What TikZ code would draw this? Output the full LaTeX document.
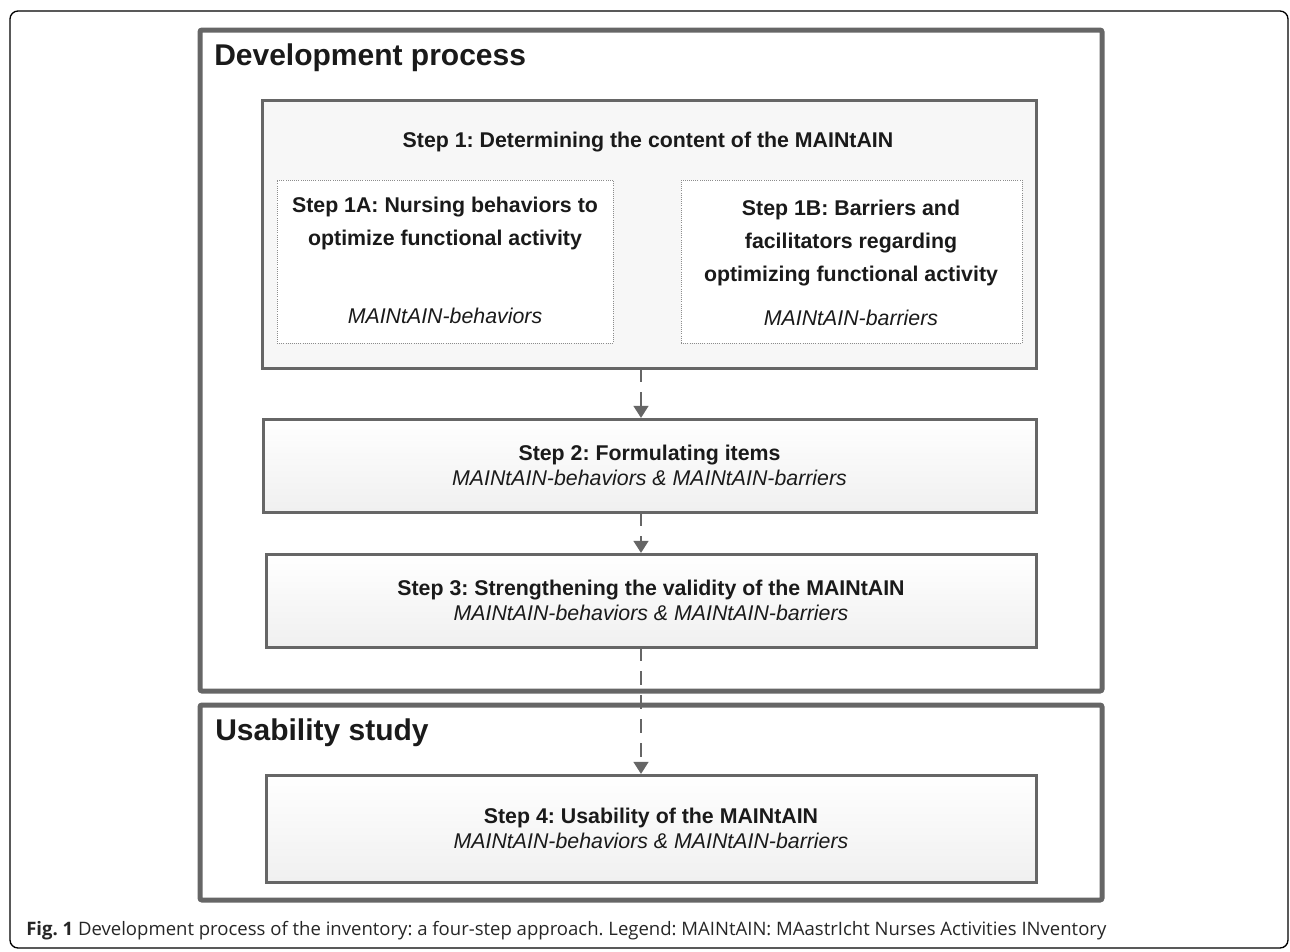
\documentclass[tikz,border=0pt]{standalone}
\usepackage{fontspec}
\setmainfont{Liberation Sans}
\newfontfamily\capfont{Open Sans}
\usetikzlibrary{arrows.meta,fit,shadows}
\definecolor{boxgray}{HTML}{666666}
\definecolor{inkblack}{HTML}{1A1A1A}
\frenchspacing
\begin{document}
\begin{tikzpicture}[x=0.75pt, y=-0.75pt,
    phasebox/.style={draw=boxgray, line width=3.75pt, rounded corners=1.5pt, inner sep=0pt, outer sep=0pt,
        drop shadow={opacity=0.12, shadow xshift=1.5pt, shadow yshift=-1.5pt}, fill=white},
    stepbox/.style={draw=boxgray, line width=2.25pt, inner sep=0pt, outer sep=0pt,
        drop shadow={opacity=0.15, shadow xshift=1.5pt, shadow yshift=-1.5pt}},
    subbox/.style={draw=black!45, densely dotted, line width=0.6pt, inner sep=0pt, outer sep=0pt, fill=white},
    phasetitle/.style={font=\fontsize{22.5}{27}\selectfont\bfseries, text=inkblack, inner sep=0pt},
    steptitle/.style={font=\fontsize{16}{24.75}\selectfont\bfseries, text=inkblack, inner sep=0pt},
    stepnote/.style={font=\fontsize{16}{19}\selectfont\itshape, text=inkblack, inner sep=0pt},
    steptext/.style={font=\fontsize{16}{18.75}\selectfont, text=inkblack, align=center, inner sep=0pt},
    flow/.style={draw=boxgray, line width=1.6pt, dash pattern=on 10.5pt off 7.5pt,
        -{Triangle[width=11pt, length=9pt]}, shorten >=0.8pt}]
    \useasboundingbox (0,0) rectangle (1290,951);
    \draw[line width=1pt, rounded corners=6pt] (10,11) rectangle (1288,948);
    \node[phasebox, fit={(200,30) (1102,691)}] (dev) {};
    \node[phasebox, fit={(200,705) (1102,900)}] (use) {};
    \node[anchor=base west, phasetitle] (devtitle) at (214,65) {Development process};
    \node[anchor=base west, phasetitle] (usetitle) at (215,740) {Usability study};
    \node[stepbox, fill=black!3, fit={(262,100) (1036,368)}] (step1) {};
    \node[anchor=base, steptitle] (s1title) at (648,147) {Step 1: Determining the content of the MAINtAIN};
    \node[subbox, fit={(277,180) (613,343)}] (step1a) {};
    \node[subbox, fit={(681,180) (1022,343)}] (step1b) {};
    \node[anchor=north, steptitle, align=center] (s1atext) at (445,197) {Step 1A: Nursing behaviors to\\optimize functional activity};
    \node[anchor=base, stepnote] (s1anote) at (445,323) {MAINtAIN-behaviors};
    \node[anchor=north, steptitle, align=center] (s1btext) at (851,200) {Step 1B: Barriers and\\facilitators regarding\\optimizing functional activity};
    \node[anchor=base, stepnote] (s1bnote) at (851,325) {MAINtAIN-barriers};
    \node[stepbox, top color=white, bottom color=black!6, fit={(263,419) (1036,512)}] (step2) {};
    \node[steptext] (s2text) at (step2.center) {\textbf{Step 2: Formulating items}\\\textit{MAINtAIN-behaviors \& MAINtAIN-barriers}};
    \node[stepbox, top color=white, bottom color=black!6, fit={(266,554) (1036,647)}] (step3) {};
    \node[steptext] (s3text) at (step3.center) {\textbf{Step 3: Strengthening the validity of the MAINtAIN}\\\textit{MAINtAIN-behaviors \& MAINtAIN-barriers}};
    \node[stepbox, top color=white, bottom color=black!6, fit={(266,775) (1036,882)}] (step4) {};
    \node[steptext] (s4text) at (step4.center) {\textbf{Step 4: Usability of the MAINtAIN}\\\textit{MAINtAIN-behaviors \& MAINtAIN-barriers}};
    \coordinate (ax) at (641,0);
    \draw[flow] (step1.south -| ax) -- (step2.north -| ax);
    \draw[flow] (step2.south -| ax) -- (step3.north -| ax);
    \draw[flow] (step3.south -| ax) -- (step4.north -| ax);
    \node[anchor=base west, inner sep=0pt, font=\capfont\fontsize{13.9}{16}\selectfont, text=black!85] (caption) at (26,935)
        {\textbf{Fig. 1} Development process of the inventory: a four-step approach. Legend: MAINtAIN: MAastrIcht Nurses Activities INventory};
\end{tikzpicture}
\end{document}
